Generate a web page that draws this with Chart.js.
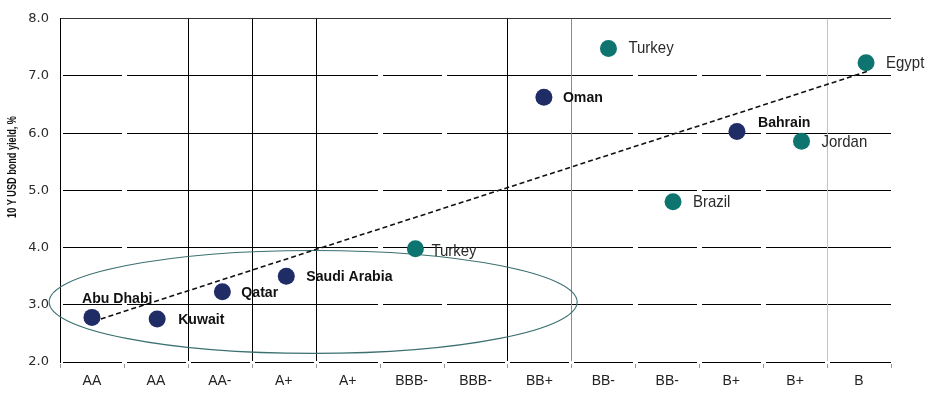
<!DOCTYPE html>
<html><head><meta charset="utf-8">
<script src="https://cdn.jsdelivr.net/npm/chart.js@4/dist/chart.umd.min.js"></script>
<style>html,body{margin:0;padding:0;background:#fff}#wrap{width:930px;height:394px;position:relative}</style>
</head><body><div id="wrap"><canvas id="c" width="930" height="394"></canvas></div>
<script>
// ---- data ----
const ratings = ['AA','AA','AA-','A+','A+','BBB-','BBB-','BB+','BB-','BB-','B+','B+','B'];
const countries = ['Abu Dhabi','Kuwait','Qatar','Saudi Arabia','Turkey','Oman','Turkey','Brazil','Bahrain','Jordan','Egypt'];
const ratingPos = [0.50,1.52,2.54,3.54,5.56,7.57,8.58,9.59,10.59,11.60,12.61];
const yields = [2.78,2.75,3.23,3.50,3.98,6.63,7.48,4.80,6.03,5.86,7.23];
const groups = ['gcc','gcc','gcc','gcc','other','gcc','other','other','gcc','other','other'];
const trendX = [0.52,12.63];
const trendY = [2.71,7.08];
const yTicks = [2,3,4,5,6,7,8];
const ellipseCenter = [3.96,3.05];
const ellipseRadii = [4.13,0.90];
const yTitle = '10 Y USD bond yield, %';

// ---- styles ----
const SANS = "'Liberation Sans',Arial,sans-serif";
const COL = {gcc:'#1f2c66', other:'#0e7470'};
const boundaryStyle = ['gap','#000','#000','#000','gap','gap','#000','#8a8a8a','gap','gap','gap','#c4c4c4'];
const labelOffsets = [[-10,-19],[21,1],[19,1],[20,1],[16,3],[19,1],[20,0],[20,0],[21,-9],[20,1],[20,0]];

function narrowText(ctx, text, x, y, sx){
  ctx.save(); ctx.translate(x,y); ctx.scale(sx,1); ctx.fillText(text,0,0); ctx.restore();
}

const gridPlugin = {
  id:'gridPlugin',
  beforeDatasetsDraw(chart){
    const {ctx, chartArea:a, scales:{x:xs, y:ys}} = chart;
    ctx.save();
    // small gap between y axis and gridlines
    ctx.fillStyle = '#fff';
    ctx.fillRect(a.left+1, a.top+1, 2, a.bottom-a.top+1);
    for(let i=1;i<ratings.length;i++){
      const px = Math.round(xs.getPixelForValue(i));
      const st = boundaryStyle[i-1];
      ctx.fillStyle = '#fff';
      if(st==='gap'){
        ctx.fillRect(px-2, a.top+1, 5, a.bottom-a.top+1);
      } else {
        ctx.fillRect(px-2, a.bottom-1, 5, 3);
        ctx.strokeStyle = st; ctx.lineWidth = 1;
        ctx.beginPath(); ctx.moveTo(px+0.5, a.top); ctx.lineTo(px+0.5, a.bottom-1); ctx.stroke();
      }
    }
    // tick marks
    ctx.strokeStyle = '#999'; ctx.lineWidth = 1;
    for(let i=0;i<=ratings.length;i++){
      const px = Math.round(xs.getPixelForValue(i));
      ctx.beginPath(); ctx.moveTo(px+0.5, a.bottom+2); ctx.lineTo(px+0.5, a.bottom+6); ctx.stroke();
    }
    // ellipse
    const cx = xs.getPixelForValue(ellipseCenter[0]);
    const cy = ys.getPixelForValue(ellipseCenter[1]);
    const rx = xs.getPixelForValue(ellipseCenter[0]+ellipseRadii[0]) - cx;
    const ry = cy - ys.getPixelForValue(ellipseCenter[1]+ellipseRadii[1]);
    ctx.strokeStyle = '#3b6f70'; ctx.lineWidth = 1.1;
    ctx.beginPath(); ctx.ellipse(cx, cy, rx, ry, 0, 0, Math.PI*2); ctx.stroke();
    ctx.restore();
  },
  afterDatasetsDraw(chart){
    const {ctx} = chart;
    const meta = chart.getDatasetMeta(1);
    ctx.save();
    ctx.textBaseline = 'middle'; ctx.textAlign = 'left';
    countries.forEach((name,i)=>{
      const el = meta.data[i];
      const bold = groups[i]==='gcc';
      ctx.font = (bold ? 'bold 15px ' : '17px ') + SANS;
      ctx.fillStyle = bold ? '#111' : '#2a2a2a';
      narrowText(ctx, name, el.x + labelOffsets[i][0], el.y + labelOffsets[i][1], bold ? 0.94 : 0.88);
    });
    // y axis title
    ctx.save();
    ctx.translate(12.5, 167);
    ctx.rotate(-Math.PI/2);
    ctx.scale(0.76,1);
    ctx.textAlign = 'center'; ctx.textBaseline = 'middle';
    ctx.font = 'bold 12px ' + SANS; ctx.fillStyle = '#111';
    ctx.fillText(yTitle, 0, 0);
    ctx.restore();
    ctx.restore();
  }
};

new Chart(document.getElementById('c'), {
  data:{datasets:[
    {type:'line', data: trendX.map((x,i)=>({x, y:trendY[i]})), borderColor:'#111', borderWidth:1.6,
     borderDash:[5,3], pointRadius:0, fill:false, order:2},
    {type:'scatter', data: ratingPos.map((x,i)=>({x, y:yields[i]})),
     backgroundColor: groups.map(g=>COL[g]), borderWidth:0, pointRadius:8.5, pointHoverRadius:8.5, order:1}
  ]},
  options:{
    responsive:false, animation:false,
    plugins:{legend:{display:false}, tooltip:{enabled:false}},
    layout:{padding:{top:16, right:39, left:0, bottom:0}},
    scales:{
      x:{type:'linear', min:0, max:13,
        afterBuildTicks: s=>{ s.ticks = ratings.map((r,i)=>({value:i+0.5})); },
        ticks:{callback:(v,i)=>ratings[i], autoSkip:false, maxRotation:0, color:'#222', padding:3,
               font:{family:SANS, size:14}},
        grid:{display:false}, border:{display:false},
        afterFit: s=>{ s.height = 32; }
      },
      y:{min:2, max:8,
        afterBuildTicks: s=>{ s.ticks = yTicks.map(v=>({value:v})); },
        ticks:{callback:v=>Number(v).toFixed(1), color:'#2a2a2a', padding:11,
               font:{family:"'DejaVu Sans',sans-serif", size:13}},
        grid:{color: c=> (c.tick && c.tick.value===8) ? '#333' : '#000', lineWidth:1, drawTicks:false},
        border:{display:true, color:'#000', width:1},
        afterFit: s=>{ s.width = 60; }
      }
    }
  },
  plugins:[gridPlugin]
});
</script></body></html>
